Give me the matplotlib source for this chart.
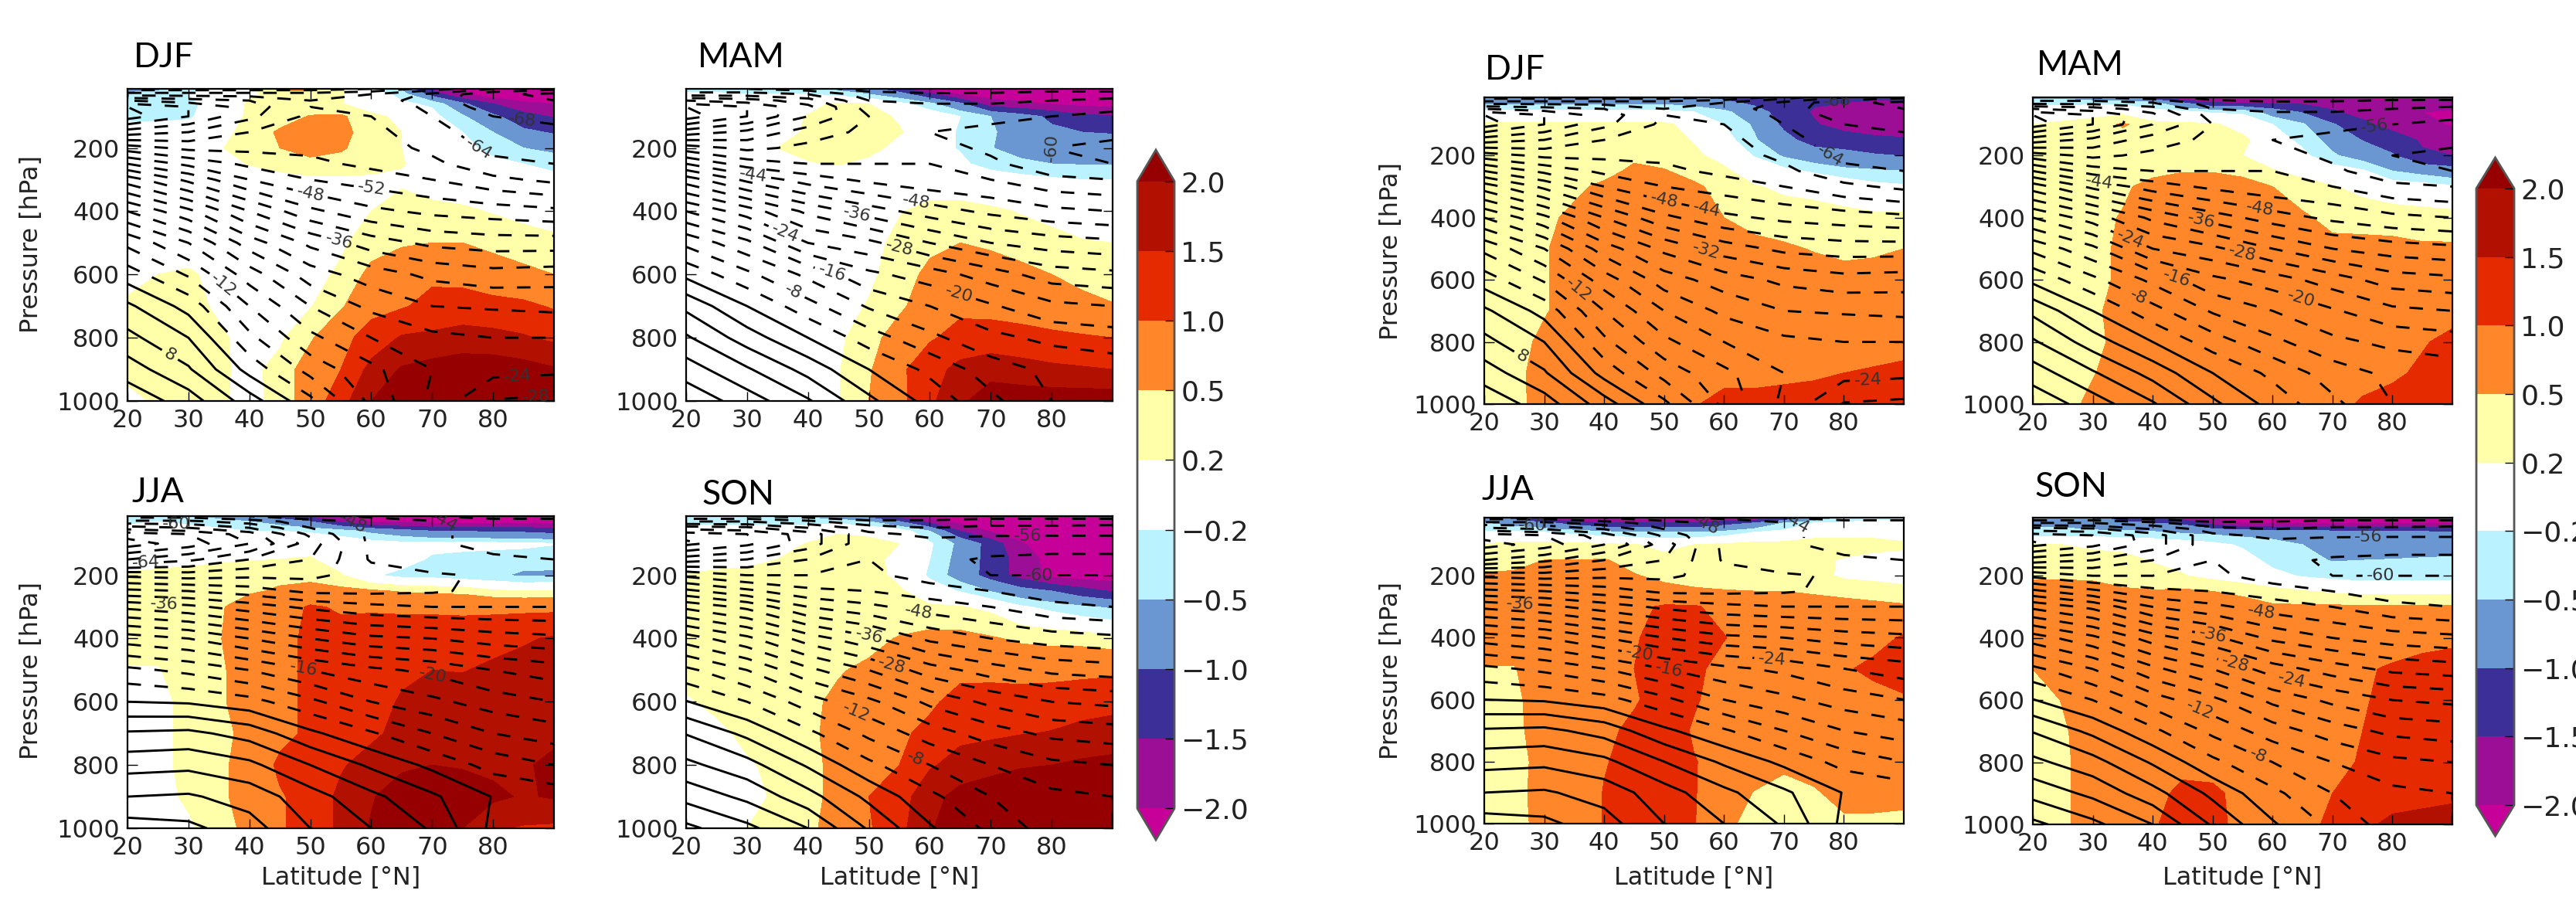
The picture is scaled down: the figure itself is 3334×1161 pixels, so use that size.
import numpy as np
import matplotlib
matplotlib.use('Agg')
import matplotlib.pyplot as plt
from matplotlib.colors import ListedColormap, BoundaryNorm

W, H = 3334.0, 1161.0

# anomaly grid
lat_f = [20, 25, 30, 35, 40, 45, 50, 55, 60, 65, 70, 75, 80, 85, 90]
p_f = [13, 30, 60, 100, 150, 200, 250, 300, 400, 500, 600, 700, 800, 900, 1000]
# temperature grid
lat_t = [20, 30, 40, 50, 60, 70, 80, 90]
p_t = [13, 30, 50, 70, 100, 150, 200, 250, 300, 400, 500, 600, 700, 800, 900, 1000]

levels_f = [-2.0, -1.5, -1.0, -0.5, -0.2, 0.2, 0.5, 1.0, 1.5, 2.0]
levels_t = list(range(-80, 32, 4))
cb_labels = ['\u22122.0', '\u22121.5', '\u22121.0', '\u22120.5', '\u22120.2', '0.2', '0.5', '1.0', '1.5', '2.0']
x_ticks = [20, 30, 40, 50, 60, 70, 80]
y_ticks = [200, 400, 600, 800, 1000]

# temperature, one list per latitude, top of the atmosphere first
t_djf = [[-50,-58,-68,-76,-78,-66,-54,-44,-34,-20,-9,-2,4.8,9.2,14,19],
         [-50,-58,-66,-72,-72,-64,-57,-49,-41,-27,-16,-8.5,-1.5,4,8.5,14],
         [-50,-58,-64,-66,-65,-60,-57,-53,-48,-36,-26,-18,-12,-7,-1.5,6],
         [-50,-58,-60,-60,-59,-58,-57,-55,-52,-43,-33,-26,-20,-15,-9.5,-3],
         [-52,-60,-62,-61,-60,-59,-58,-57,-54,-47,-38,-30,-25,-20,-15,-13],
         [-58,-65,-66,-65,-64,-62,-61,-59,-56,-49,-41,-33,-28,-23,-20,-21],
         [-64,-71,-71,-70,-68,-67,-65,-63,-59,-50,-42,-34.5,-28.5,-24,-22.5,-28.3],
         [-67,-73,-72,-71,-69,-67,-66,-64,-61,-51,-42,-34,-29,-24,-23,-29]]
t_mam = [[-52,-58,-68,-76,-78,-66,-54,-44,-34,-20,-9,-1,7,12.6,18,23],
         [-52,-58,-66,-72,-72,-63,-57,-50,-41,-26,-15,-7,0,6,12.5,18],
         [-50,-56,-62,-65,-64,-58,-55,-52,-46,-33,-24,-13,-6.5,0,6.5,12.5],
         [-46,-50,-52,-54,-56,-55,-54,-52,-49,-38,-27,-19,-12.5,-6,0,5],
         [-44,-49,-51,-53,-55,-56,-54,-52,-51,-42,-32,-22,-16,-11,-5,-1.5],
         [-45,-49,-51,-53,-55,-57,-57,-55,-52,-45,-36,-26,-19.5,-15,-10,-7],
         [-46,-50,-52,-54,-56,-58,-60,-59,-55,-47,-38,-30,-23,-17,-13,-12],
         [-46,-50,-53,-55,-57,-59,-61,-60,-56,-48,-39,-31,-24,-18,-14,-16]]
t_jja = [[-50,-57,-66,-74,-78,-68,-53,-43,-33,-18,-7,0,8.5,14.5,20,26],
         [-50,-57,-64,-72,-74,-65,-54,-44,-35,-20,-9,-0.5,9,15,20.5,25],
         [-48,-54,-60,-66,-68,-60,-53,-46,-38,-24,-12,-2.5,6.4,13,18.3,21.7],
         [-45,-50,-52,-55,-58,-56,-53,-49,-41,-28,-16,-7,0.9,8,13.7,16],
         [-43,-47,-47,-47,-47,-47.5,-50,-49,-43,-31,-19,-12,-3.5,3.3,9,12],
         [-40,-44.5,-44.5,-44.5,-44.5,-45.5,-48.5,-48.5,-44,-32,-21,-15,-8,-1,4.7,7.5],
         [-38,-42,-42,-43,-43,-44.5,-47.5,-47,-44,-34,-24,-18,-12,-5.5,-0.2,-1],
         [-38,-42,-42,-43,-43,-44,-45,-46,-44,-35,-26,-20,-14,-8,-1.5,-1.5]]
t_son = [[-48,-56,-66,-74,-77,-66,-53,-43,-33,-18,-7,0.2,7.8,13,18.7,25],
         [-48,-56,-65,-72,-73,-64,-56,-47,-37,-23,-12,-4,3,9.5,15,21],
         [-46,-53,-60,-66,-66,-60,-56,-51,-44,-30,-19,-10,-3,3.5,9.5,16],
         [-44,-49,-54,-57,-57,-56,-55,-52,-47,-35,-24,-15,-9,-3,3,7.5],
         [-45,-49,-52,-55,-57.5,-59,-58,-54,-50,-41,-30,-21,-14,-8,-3,0.5],
         [-46,-50,-53,-55.5,-58,-60.5,-60,-56,-52,-44,-34,-25,-18,-12,-8,-5],
         [-46,-50,-53,-55.5,-58.5,-60.8,-60,-58,-55,-46,-37,-28,-21,-15,-11,-10],
         [-46,-50,-53.5,-55.5,-58.5,-60.8,-60,-58,-56,-47,-38,-29,-22,-16,-12,-12]]

# anomaly, one list per pressure level
a_left_djf = [[-.7,-.6,-.3,-.1,.1,.6,.6,.25,-.1,-.6,-1.6,-2.3,-2.5,-2.5,-2.5],
              [-.4,-.3,-.2,-.1,.15,.3,.3,.22,0,-.3,-1.2,-2.0,-2.3,-2.4,-2.4],
              [-.3,-.3,-.25,-.1,.25,.3,.3,.22,-.05,-.15,-.25,-.9,-1.5,-1.9,-2.0],
              [-.3,-.3,-.25,0,.25,.35,.52,.55,.3,.1,-.1,-.45,-.9,-1.3,-1.55],
              [0,0,0,.1,.3,.55,.7,.6,.35,.2,0,-.2,-.5,-.9,-1.05],
              [0,0,0,.18,.3,.5,.7,.55,.3,.2,0,-.1,-.3,-.5,-.6],
              [0,0,0,.05,.22,.3,.35,.35,.3,.22,.05,-.05,-.12,-.2,-.3],
              [0,0,0,0,0,.1,.15,.15,.15,.15,.05,0,0,-.05,-.1],
              [0,0,0,0,0,0,0,.1,.2,.32,.28,.25,.18,.13,.1],
              [0,0,0,0,0,0,.05,.15,.35,.45,.5,.5,.4,.3,.25],
              [.1,.2,.25,.1,.05,.05,.1,.25,.6,.8,.9,.85,.7,.6,.5],
              [.25,.35,.3,.15,.05,.1,.18,.45,.85,.95,1.15,1.2,1.15,1.1,.95],
              [.3,.35,.35,.25,.1,.15,.45,.85,1.2,1.55,1.6,1.7,1.65,1.55,1.4],
              [.3,.35,.35,.25,.12,.3,.7,1.0,1.65,2.05,2.2,2.3,2.3,2.2,2.05],
              [.1,.25,.35,.25,.1,.3,.7,1.3,2.0,2.4,2.5,2.5,2.5,2.5,2.4]]
a_left_mam = [[-.4,-.4,-.4,-.4,-.4,-.6,-.9,-1.3,-2.1,-2.5,-2.5,-2.5,-2.5,-2.5,-2.5],
              [-.1,-.1,-.2,-.2,-.2,-.3,-.5,-.8,-1.4,-2.05,-2.2,-2.3,-2.3,-2.3,-2.3],
              [0,0,0,0,.1,.25,.2,-.1,-.4,-.9,-1.8,-1.9,-2.05,-2.15,-2.2],
              [0,0,0,.05,.22,.3,.28,.17,0,-.2,-.5,-.8,-1.1,-1.4,-1.45],
              [0,0,0,.05,.25,.3,.3,.22,.05,-.25,-.45,-.7,-.9,-1.0,-1.02],
              [0,0,.05,.2,.28,.3,.3,.1,-.1,-.22,-.48,-.7,-.8,-.85,-.85],
              [0,0,0,.1,.18,.22,.12,0,0,-.15,-.3,-.4,-.5,-.52,-.52],
              [0,0,0,0,0,0,.05,.05,0,0,-.05,-.1,-.15,-.2,-.2],
              [0,0,0,0,0,0,.05,.18,.3,.3,.25,.18,.1,.05,.05],
              [0,0,0,0,0,0,.1,.28,.4,.5,.45,.35,.3,.22,.2],
              [0,0,0,0,0,.05,.15,.32,.6,.7,.65,.6,.5,.4,.35],
              [0,0,0,0,0,.1,.22,.42,.75,.9,.85,.8,.7,.6,.52],
              [0,0,0,0,.05,.15,.35,.7,.95,1.15,1.2,1.15,1.1,1.05,1.0],
              [0,0,0,0,.05,.18,.45,.9,1.3,1.65,1.8,1.7,1.6,1.55,1.5],
              [0,0,0,0,.05,.18,.5,.85,1.4,1.9,2.3,2.3,2.3,2.3,2.3]]
a_left_jja = [[-.4,-.4,-.5,-.7,-1,-1.3,-1.7,-2.1,-2.4,-2.5,-2.5,-2.5,-2.5,-2.5,-2.5],
              [-.3,-.2,-.25,-.3,-.5,-.7,-1.0,-1.6,-2.05,-2.2,-2.2,-2.2,-2.2,-2.2,-2.2],
              [0,0,-.1,-.15,-.2,-.2,-.25,-.35,-.6,-.8,-1.0,-1.0,-1.1,-1.1,-1.2],
              [0,0,0,.05,.1,.1,.1,0,-.05,-.1,-.1,-.1,-.1,-.12,-.18],
              [0,.05,.1,.15,.18,.2,.22,.1,0,-.05,-.25,-.3,-.35,-.38,-.4],
              [.25,.3,.32,.35,.38,.4,.38,.22,-.15,-.3,-.32,-.4,-.45,-.55,-.55],
              [.3,.32,.35,.4,.45,.55,.65,.6,.55,.47,.42,.4,.25,.2,.22],
              [.3,.32,.35,.45,.7,.8,1.05,.95,.95,.92,.9,.88,.88,.88,.88],
              [.3,.32,.35,.48,.7,.85,1.1,1.15,1.2,1.25,1.3,1.3,1.35,1.45,1.55],
              [.18,.18,.35,.45,.65,.85,1.1,1.2,1.3,1.4,1.5,1.48,1.58,1.65,1.7],
              [0,.1,.3,.45,.65,.85,1.1,1.2,1.3,1.55,1.65,1.7,1.75,1.8,1.85],
              [0,.1,.3,.45,.55,.85,1.1,1.3,1.4,1.65,1.7,1.75,1.8,1.85,1.9],
              [0,.1,.3,.45,.6,1.1,1.2,1.45,1.7,1.9,2.0,1.95,1.9,1.95,2.1],
              [0,.1,.25,.45,.6,.95,1.2,1.6,1.95,2.3,2.3,2.3,2.1,1.95,2.05],
              [0,.05,.15,.35,.6,.95,1.2,1.6,2.05,2.3,2.3,2.0,1.55,1.45,1.4]]
a_left_son = [[-.5,-.5,-.5,-.5,-.6,-.8,-1.2,-1.7,-2.2,-2.4,-2.5,-2.5,-2.5,-2.5,-2.5],
              [-.3,-.3,-.3,-.3,-.3,-.3,-.5,-1.0,-1.7,-2.2,-2.4,-2.5,-2.5,-2.5,-2.5],
              [0,0,0,0,0,.15,.1,0,-.5,-1.5,-2.05,-2.3,-2.5,-2.5,-2.5],
              [0,0,0,.05,.22,.35,.3,.2,-.15,-.6,-1.2,-1.95,-2.3,-2.4,-2.5],
              [0,.05,.1,.2,.28,.35,.3,.1,-.2,-.65,-1.2,-1.7,-2.2,-2.3,-2.4],
              [.22,.28,.3,.35,.4,.4,.35,.1,-.25,-.7,-1.2,-1.7,-2.15,-2.25,-2.3],
              [.4,.4,.4,.4,.4,.38,.32,.25,-.05,-.22,-.52,-.8,-1.0,-1.3,-1.55],
              [.4,.4,.4,.4,.4,.4,.38,.3,.25,.22,.12,-.15,-.3,-.45,-.55],
              [.4,.4,.4,.4,.42,.45,.42,.52,.6,.6,.53,.45,.4,.38,.28],
              [.35,.4,.4,.42,.45,.48,.55,.65,.8,.85,.8,.75,.8,.85,.9],
              [.15,.3,.4,.42,.45,.55,.7,.85,.9,1.2,1.3,1.3,1.3,1.35,1.35],
              [0,.1,.3,.4,.45,.58,.7,.9,1.15,1.4,1.42,1.48,1.52,1.6,1.7],
              [0,.05,.15,.3,.45,.55,.8,1.0,1.45,1.65,1.8,1.95,2.0,2.1,2.15],
              [0,0,.1,.25,.4,.6,1.0,1.3,1.8,2.2,2.35,2.4,2.4,2.4,2.4],
              [0,0,.2,.35,.4,.7,.95,1.35,1.95,2.3,2.5,2.5,2.5,2.5,2.5]]
a_right_djf = [[-.7,-.7,-.7,-.7,-.7,-.75,-.8,-.9,-1.1,-1.3,-1.4,-1.45,-1.45,-1.45,-1.4],
               [-.6,-.6,-.6,-.6,-.6,-.6,-.6,-.7,-.9,-1.1,-1.3,-1.45,-1.5,-1.55,-1.55],
               [-.1,-.1,-.1,-.1,-.1,-.1,-.1,-.2,-.4,-.8,-1.2,-1.55,-1.7,-1.75,-1.8],
               [.25,.25,.25,.25,.25,.25,.25,.1,-.2,-.55,-1.1,-1.45,-1.7,-1.75,-1.75],
               [.3,.3,.3,.3,.3,.3,.3,.18,-.05,-.45,-.85,-1.2,-1.25,-1.4,-1.45],
               [.3,.3,.3,.3,.35,.45,.38,.25,.1,-.22,-.55,-.75,-.85,-.95,-1.02],
               [.35,.35,.35,.38,.42,.55,.52,.4,.25,.05,-.1,-.25,-.4,-.45,-.5],
               [.35,.35,.38,.45,.55,.65,.65,.55,.4,.22,.15,.12,.05,-.1,-.15],
               [.35,.35,.45,.55,.65,.7,.7,.65,.5,.38,.32,.3,.28,.27,.27],
               [.35,.4,.48,.6,.7,.75,.75,.7,.65,.6,.55,.48,.42,.45,.5],
               [.35,.4,.48,.6,.7,.75,.75,.75,.7,.7,.68,.65,.62,.62,.65],
               [.35,.4,.48,.6,.7,.75,.75,.75,.75,.75,.72,.7,.7,.7,.7],
               [.35,.42,.55,.65,.7,.75,.75,.75,.75,.75,.75,.75,.75,.8,.85],
               [.35,.4,.65,.7,.72,.75,.8,.8,.8,.8,.85,.9,1.0,1.05,1.1],
               [.35,.35,.7,.72,.75,.75,.8,.95,1.2,1.2,1.25,1.3,1.3,1.3,1.3]]
a_right_mam = [[-.6,-.6,-.8,-1,-1.4,-2.05,-2.2,-2.2,-2.2,-2.2,-2.2,-2.2,-2.2,-2.1,-1.9],
               [-.3,-.3,-.3,-.3,-.4,-1.0,-1.5,-1.55,-1.6,-1.6,-1.65,-1.7,-1.8,-1.7,-1.6],
               [0,.05,.1,.1,-.1,-.1,-.25,-.25,-.7,-1.05,-1.45,-1.65,-1.8,-2.0,-2.1],
               [.2,.25,.3,.55,.3,.25,.25,.05,-.2,-.45,-.95,-1.4,-1.65,-1.85,-2.05],
               [.3,.3,.3,.3,.3,.3,.3,.28,-.05,-.28,-.65,-1.02,-1.3,-1.55,-1.75],
               [.3,.3,.3,.3,.3,.3,.3,.2,.05,-.12,-.45,-.7,-.95,-1.45,-1.5],
               [.3,.3,.35,.38,.42,.48,.48,.4,.22,.1,-.02,-.15,-.5,-.65,-.8],
               [.35,.35,.4,.45,.6,.7,.7,.65,.5,.32,.22,.1,0,-.05,-.15],
               [.35,.35,.42,.52,.7,.75,.75,.7,.65,.55,.4,.38,.35,.33,.32],
               [.35,.35,.42,.55,.7,.8,.8,.75,.7,.65,.6,.6,.6,.55,.55],
               [.35,.38,.42,.55,.7,.8,.8,.8,.8,.75,.75,.7,.7,.7,.7],
               [.35,.38,.45,.6,.7,.8,.8,.8,.8,.8,.8,.75,.75,.75,.8],
               [.35,.38,.42,.6,.7,.8,.8,.8,.8,.8,.8,.8,.85,.95,1.15],
               [.35,.38,.48,.65,.7,.8,.8,.8,.8,.8,.8,.85,.9,1.1,1.15],
               [.35,.38,.58,.65,.7,.8,.8,.8,.8,.8,.85,1.05,1.2,1.25,1.3]]
a_right_jja = [[-.8,-1.2,-2.0,-2.2,-2.2,-2.2,-2.3,-2.3,-2.2,-2.0,-1.5,-1.0,-.5,-.3,-.3],
               [-.5,-.7,-.9,-1.2,-1.5,-1.5,-1.5,-1.5,-1.2,-1,-.5,-.2,-.15,-.1,-.1],
               [-.15,-.15,-.2,-.3,-.4,-.5,-.5,-.5,-.4,-.2,-.1,.1,.1,.1,.05],
               [.22,.3,.3,.3,.25,.22,.1,.2,.25,.3,.3,.3,.3,.3,.25],
               [.3,.4,.5,.5,.52,.4,.3,.3,.3,.3,.3,.25,.18,.1,.1],
               [.55,.55,.6,.6,.6,.52,.42,.35,.3,.3,.3,.3,.15,.12,.1],
               [.65,.65,.65,.65,.65,.65,.6,.55,.52,.5,.5,.44,.38,.33,.27],
               [.7,.7,.7,.7,.75,.9,1.05,1.05,.85,.8,.7,.7,.65,.6,.55],
               [.7,.7,.7,.7,.8,.95,1.2,1.2,1.02,.8,.75,.75,.8,.85,1.05],
               [.48,.48,.7,.75,.8,1.0,1.25,1.1,.85,.8,.8,.85,.95,1.1,1.2],
               [.4,.42,.7,.75,.8,.95,1.2,1.05,.8,.75,.75,.8,.8,.85,.95],
               [.3,.42,.65,.7,.9,1.1,1.25,.95,.8,.75,.7,.7,.7,.7,.7],
               [.3,.4,.6,.7,.97,1.15,1.25,1.02,.85,.8,.6,.7,.7,.7,.7],
               [.3,.42,.6,.7,1.02,1.15,1.25,1.02,.8,.48,.35,.45,.65,.65,.6],
               [.3,.42,.58,.7,1.02,1.15,1.25,1.02,.65,.3,.25,.3,.42,.42,.42]]
a_right_son = [[-.6,-.7,-.9,-1.2,-1.4,-1.8,-2.1,-2.2,-2.2,-2.2,-2.2,-2.2,-2.2,-2.2,-2.2],
               [-.6,-.6,-.8,-.9,-1.0,-1.1,-1.7,-2.05,-2.1,-2.1,-2.1,-2.1,-2.1,-2.1,-2.05],
               [-.4,-.4,-.4,-.4,-.45,-.55,-.6,-.65,-.7,-.75,-.8,-.8,-.85,-.9,-.95],
               [.22,.2,.15,.1,.05,0,-.1,-.25,-.35,-.5,-.65,-.7,-.75,-.75,-.75],
               [.3,.3,.3,.3,.18,.1,0,-.05,-.3,-.4,-.52,-.5,-.48,-.45,-.42],
               [.45,.45,.45,.35,.3,.22,.1,0,-.1,-.23,-.3,-.35,-.35,-.35,-.33],
               [.65,.65,.6,.55,.52,.55,.5,.42,.3,.22,.15,.1,.1,.1,.1],
               [.7,.7,.7,.7,.7,.7,.7,.65,.55,.55,.55,.55,.55,.55,.55],
               [.75,.75,.75,.75,.75,.75,.75,.75,.75,.75,.75,.75,.8,.85,.9],
               [.5,.6,.75,.75,.75,.75,.75,.75,.75,.75,.75,.95,1.05,1.15,1.2],
               [.3,.52,.7,.75,.75,.75,.75,.75,.75,.75,.8,.95,1.15,1.2,1.25],
               [.25,.45,.7,.7,.75,.75,.75,.75,.75,.75,.8,1.0,1.2,1.25,1.3],
               [.25,.42,.7,.75,.75,.8,.8,.8,.8,.8,.85,1.05,1.2,1.25,1.3],
               [.25,.42,.7,.75,.8,1.15,1.1,.85,.8,.8,1.0,1.2,1.3,1.35,1.4],
               [.25,.42,.7,.75,.95,1.2,1.15,.85,.8,.85,1.1,1.4,1.6,1.65,1.7]]

# level, latitude, pressure of the inline labels
lab_left_djf = [(-12,36,627),(8,27,853),(-36,55,475),(-48,50,345),(-52,60,335),(-64,77,225),(-68,85,80),(-24,84,930),(-28,87,985)]
lab_left_mam = [(-44,31,290),(-48,58,350),(-36,48,415),(-24,36,480),(-28,55,510),(-16,44,590),(-20,65,645),(-8,38,640),(-60,80,200)]
lab_left_jja = [(-60,28,40),(-64,23,155),(-36,26,295),(-16,49,490),(-20,70,525),(-48,57,35),(-44,72,30)]
lab_left_son = [(-56,76,75),(-60,78,200),(-48,58,330),(-36,50,390),(-28,54,470),(-12,48,625),(-8,58,760)]
lab_right_djf = [(-48,50,345),(-44,57,385),(-32,57,510),(-12,36,625),(8,27,825),(-24,84,930),(-64,77,225),(-68,79,50)]
lab_right_mam = [(-44,31,290),(-48,58,350),(-36,48,415),(-24,36,480),(-28,55,510),(-16,44,590),(-20,65,645),(-8,38,640),(-56,77,105)]
lab_right_jja = [(-60,28,40),(-36,26,295),(-20,46,440),(-16,51,490),(-24,68,476),(-48,57,35),(-44,72,30)]
lab_right_son = [(-56,76,75),(-60,78,200),(-48,58,330),(-36,50,390),(-28,54,470),(-24,63,554),(-12,48,625),(-8,58,760)]

band_colors = ['#9c0e96', '#3d2f98', '#6a97d2', '#baf2ff', '#ffffff',
               '#feffa8', '#ff872a', '#e62a00', '#b21000']
cmap = ListedColormap(band_colors)
cmap.set_under('#c8009a')
cmap.set_over('#960000')
norm = BoundaryNorm(levels_f, cmap.N)

plt.rcParams['font.family'] = 'DejaVu Sans'
fig = plt.figure(figsize=(W / 100, H / 100), dpi=100)


def add_px_axes(x0, y0, x1, y1):
    return fig.add_axes([x0 / W, 1 - y1 / H, (x1 - x0) / W, (y1 - y0) / H])


def panel(box, anom, temp, labels):
    ax = add_px_axes(*box)
    cf = ax.contourf(lat_f, p_f, np.array(anom), levels=levels_f, cmap=cmap, norm=norm, extend='both')
    cs = ax.contour(lat_t, p_t, np.array(temp).T, levels=levels_t, colors='k', linewidths=2.1,
                    negative_linestyles=(0, (6, 6)))
    ax.set_xlim(20, 90)
    ax.set_ylim(1000, 13)
    ax.set_xticks(x_ticks)
    ax.set_yticks(y_ticks)
    ax.tick_params(direction='in', top=True, right=True, length=9, width=1, labelsize=23,
                   labelcolor='#222222', pad=7)
    for s in ax.spines.values():
        s.set_linewidth(1.6)
    # nearest contour gets the label, text is what the reference prints there
    texts = ax.clabel(cs, fmt='%d', fontsize=16, colors='#333333', manual=[(l[1], l[2]) for l in labels])
    for t, l in zip(texts, labels):
        t.set_text(str(l[0]))
    return cf


def colorbar(cf, box):
    cax = add_px_axes(*box)
    cb = fig.colorbar(cf, cax=cax, extend='both', extendfrac=0.05, ticks=levels_f)
    cb.set_ticklabels(cb_labels)
    cax.tick_params(direction='in', length=9, width=1, labelsize=26, labelcolor='#222222', pad=6)
    cb.outline.set_linewidth(2)
    cb.outline.set_edgecolor('#555555')


def title(x, y, s):
    fig.text(x / W, 1 - y / H, s, family='Lato', fontsize=32, color='k', va='baseline', ha='left')


cf = panel((165, 115, 717, 519), a_left_djf, t_djf, lab_left_djf)
panel((888, 115, 1440, 519), a_left_mam, t_mam, lab_left_mam)
panel((165, 668, 717, 1072), a_left_jja, t_jja, lab_left_jja)
panel((888, 668, 1440, 1072), a_left_son, t_son, lab_left_son)
panel((1921, 126, 2464, 523), a_right_djf, t_djf, lab_right_djf)
panel((2631, 126, 3174, 523), a_right_mam, t_mam, lab_right_mam)
panel((1921, 670, 2464, 1066), a_right_jja, t_jja, lab_right_jja)
panel((2631, 670, 3174, 1067), a_right_son, t_son, lab_right_son)

colorbar(cf, (1472, 194, 1520, 1087))
colorbar(cf, (3205, 204, 3254, 1082))

title(173, 87, 'DJF')
title(903, 87, 'MAM')
title(170, 650, 'JJA')
title(908, 653, 'SON')
title(1922, 103, 'DJF')
title(2636, 97, 'MAM')
title(1917, 647, 'JJA')
title(2633, 643, 'SON')

for x, y in [(41, 316), (41, 868), (1800, 325), (1800, 868)]:
    fig.text(x / W, 1 - y / H, 'Pressure [hPa]', rotation=90, fontsize=23, color='#222222', ha='center', va='center')
for x, y in [(441, 1136), (1164, 1136), (2192, 1136), (2902, 1136)]:
    fig.text(x / W, 1 - y / H, 'Latitude [\u00b0N]', fontsize=23, color='#222222', ha='center', va='center')

fig.savefig('out.png', dpi=100)
